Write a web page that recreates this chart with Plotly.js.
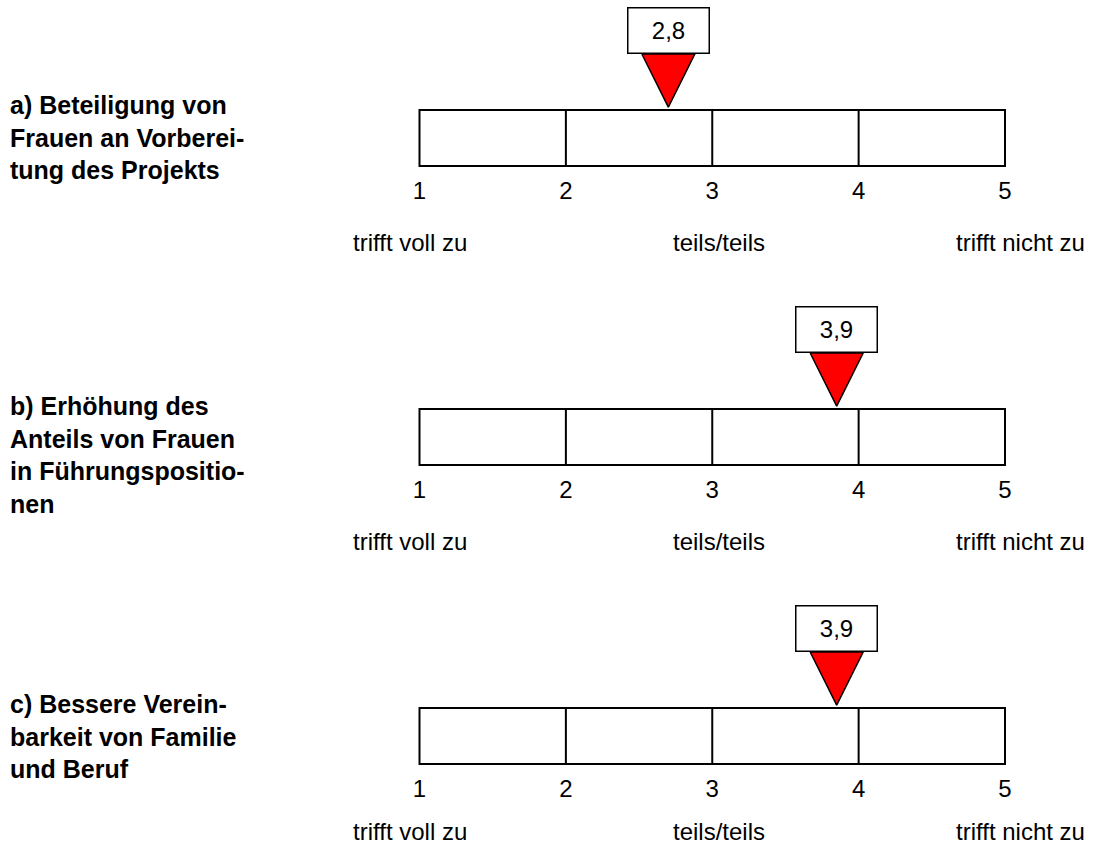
<!DOCTYPE html>
<html><head><meta charset="utf-8">
<script src="https://cdn.plot.ly/plotly-3.0.1.min.js"></script>
<style>html,body{margin:0;padding:0;background:#fff}#chart{width:1093px;height:846px}</style>
</head><body><div id="chart"></div>
<script>
// ---- data ----
const items = [
  "a) Beteiligung von<br>Frauen an Vorberei-<br>tung des Projekts",
  "b) Erhöhung des<br>Anteils von Frauen<br>in Führungspositio-<br>nen",
  "c) Bessere Verein-<br>barkeit von Familie<br>und Beruf"
];
const meanValues = [2.70, 3.85, 3.85];      // marker position
const meanLabels = ["2,8", "3,9", "3,9"];   // printed mean
const scalePoints = [1, 2, 3, 4, 5];
const scaleTickLabels = ["1", "2", "3", "4", "5"];
const anchorPoints = [1, 3, 5];
const anchorLabels = ["trifft voll zu", "teils/teils", "trifft nicht zu"];

// ---- layout helpers ----
const W = 1093, H = 846;
const FONT = "Liberation Sans, Arial, sans-serif";
const unit = 56;                       // px per y unit (box height)
const panelBottom = [166, 465, 764];   // px of box bottom
const yMin = -0.1, yMax = 2.1;
const xPx0 = 419.5, xUnit = 146.375;
const xRange = [1 - xPx0 / xUnit, 1 - xPx0 / xUnit + W / xUnit];
const anchorShift = [-10, 7, 15];
const anchorYShift = [-77, -76, -67];
const itemY = [0.5, 0.18, 0.49];
const triHalf = 0.181, triTop = 2.0, triTip = 1.05;

const traces = [], shapes = [], annotations = [];
const layout = {
  width: W, height: H, margin: {l: 0, r: 0, t: 0, b: 0},
  paper_bgcolor: "#fff", plot_bgcolor: "rgba(0,0,0,0)",
  showlegend: false, font: {family: FONT, size: 24, color: "#000"}
};

items.forEach((label, i) => {
  const sfx = i === 0 ? "" : String(i + 1);
  const xa = "x" + sfx, ya = "y" + sfx;
  const B = panelBottom[i];
  const d0 = (H - (B - yMin * unit)) / H;
  const d1 = (H - (B - yMax * unit)) / H;
  layout["yaxis" + sfx] = {domain: [d0, d1], range: [yMin, yMax], visible: false, fixedrange: true, anchor: xa};
  layout["xaxis" + sfx] = {
    domain: [0, 1], range: xRange, anchor: ya,
    showgrid: false, zeroline: false, showline: false, ticks: "",
    tickmode: "array", tickvals: scalePoints, ticktext: scaleTickLabels,
    tickfont: {family: FONT, size: 24, color: "#000"}, ticklabelstandoff: 2, fixedrange: true
  };
  // box
  shapes.push({type: "rect", xref: xa, yref: ya, x0: scalePoints[0], x1: scalePoints[scalePoints.length - 1],
    y0: 0, y1: 1, line: {color: "#000", width: 2}, fillcolor: "rgba(0,0,0,0)"});
  scalePoints.slice(1, -1).forEach(p => {
    shapes.push({type: "line", xref: xa, yref: ya, x0: p, x1: p, y0: 0, y1: 1, line: {color: "#000", width: 2}});
  });
  // triangle marker
  const v = meanValues[i];
  traces.push({
    type: "scatter", mode: "lines", xaxis: xa, yaxis: ya,
    x: [v - triHalf, v + triHalf, v, v - triHalf], y: [triTop, triTop, triTip, triTop],
    fill: "toself", fillcolor: "#ff0000", line: {color: "#000", width: 1.5}, hoverinfo: "skip"
  });
  // value label box (sits on top of the triangle)
  annotations.push({
    xref: xa, yref: ya, x: v, y: triTop, yanchor: "bottom", text: meanLabels[i], showarrow: false,
    font: {family: FONT, size: 24, color: "#000"}, bgcolor: "#fff", bordercolor: "#000",
    borderwidth: 1.5, borderpad: 1, width: 78, height: 42
  });
  // anchor labels
  anchorPoints.forEach((p, k) => {
    annotations.push({
      xref: xa, yref: ya, x: p, y: 0, yanchor: "middle", xshift: anchorShift[k], yshift: anchorYShift[i],
      text: anchorLabels[k], showarrow: false, font: {family: FONT, size: 24, color: "#000"}
    });
  });
  // item label
  annotations.push({
    xref: "paper", yref: ya, x: 8 / W, y: itemY[i], xanchor: "left", yanchor: "middle", align: "left",
    text: "<b>" + label + "</b>", showarrow: false, font: {family: FONT, size: 25, color: "#000"}
  });
});

layout.shapes = shapes;
layout.annotations = annotations;
Plotly.newPlot("chart", traces, layout, {displayModeBar: false, staticPlot: true});
</script>
</body></html>
